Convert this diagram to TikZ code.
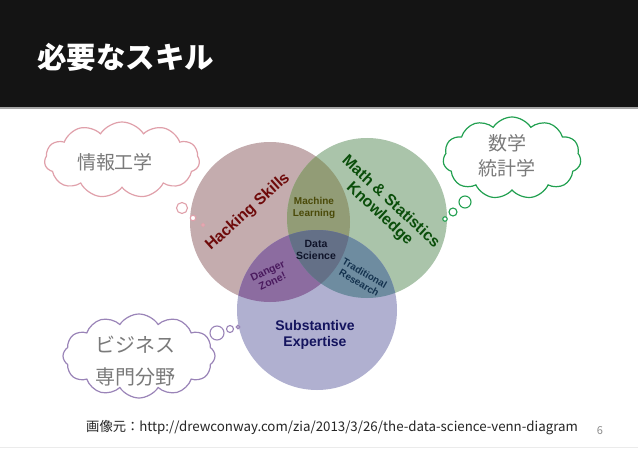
\documentclass[tikz,border=0pt]{standalone}
\usepackage{fontspec}
\usetikzlibrary{shapes.symbols}
\newfontfamily\jp{Noto Sans CJK JP}
\newfontfamily\arial{Liberation Sans}
\definecolor{band}{HTML}{141414}
\definecolor{hackc}{HTML}{C4ACAE}
\definecolor{mathc}{HTML}{AAC4AA}
\definecolor{subc}{HTML}{B0B0D0}
\definecolor{mlc}{HTML}{929C76}
\definecolor{dangc}{HTML}{8C6CA0}
\definecolor{tradc}{HTML}{6E8CA0}
\definecolor{dsc}{HTML}{647087}
\definecolor{pinkc}{HTML}{E0A0AA}
\definecolor{greenc}{HTML}{22A050}
\definecolor{purpc}{HTML}{9A84B8}
\definecolor{cloudtxt}{HTML}{7A7A7A}
\definecolor{hacktxt}{HTML}{6E0A0A}
\definecolor{mathtxt}{HTML}{0A4E0A}
\definecolor{mltxt}{HTML}{4A4A08}
\definecolor{dstxt}{HTML}{10142A}
\definecolor{dztxt}{HTML}{4A1A5E}
\definecolor{trtxt}{HTML}{14324E}
\definecolor{setxt}{HTML}{14145E}
\tikzset{
  cloudbox/.style={cloud, cloud puffs=11, cloud puff arc=115, aspect=2, fill=white, line width=1.2pt, inner sep=0pt},
  bubble/.style={circle, fill=white, line width=1.1pt, inner sep=0pt},
  cloudtext/.style={font=\jp\fontsize{19}{25}\selectfont, text=cloudtxt, align=center},
  vennlab/.style={font=\arial\bfseries, align=center, inner sep=0pt},
}
\begin{document}
\begin{tikzpicture}[x=1pt,y=-1pt]
\useasboundingbox (0,0) rectangle (638,452);
\fill[white] (0,0) rectangle (638,452);
% header
\fill[band] (0,0) rectangle (638,107);
\fill[gray!70] (0,107) rectangle (638,109);
\node[anchor=west, text=white, font=\jp\bfseries\fontsize{29.5}{30}\selectfont, inner sep=0pt] (title) at (37,57) {必要なスキル};
% venn circles
\coordinate (H) at (270,222);
\coordinate (M) at (367,218);
\coordinate (S) at (317,310);
\fill[hackc] (H) circle (80);
\fill[mathc] (M) circle (80);
\fill[subc] (S) circle (80);
\begin{scope}
  \clip (H) circle (80);
  \fill[mlc] (M) circle (80);
  \fill[dangc] (S) circle (80);
\end{scope}
\begin{scope}
  \clip (M) circle (80);
  \fill[tradc] (S) circle (80);
\end{scope}
\begin{scope}
  \clip (H) circle (80);
  \clip (M) circle (80);
  \fill[dsc] (S) circle (80);
\end{scope}
% venn labels
\node[vennlab, rotate=42, font=\arial\bfseries\fontsize{15.8}{17}\selectfont, text=hacktxt] (hack) at (248,212) {Hacking Skills};
\node[vennlab, rotate=-43, font=\arial\bfseries\fontsize{15.8}{16.5}\selectfont, text=mathtxt] (math) at (385,208) {Math \& Statistics\\Knowledge};
\node[vennlab, font=\arial\bfseries\fontsize{10}{11.5}\selectfont, text=mltxt] (ml) at (314,208) {Machine\\Learning};
\node[vennlab, font=\arial\bfseries\fontsize{10.5}{11.5}\selectfont, text=dstxt] (ds) at (316,250) {Data\\Science};
\node[vennlab, rotate=25, font=\arial\bfseries\fontsize{10.5}{11.5}\selectfont, text=dztxt] (dz) at (270,276) {Danger\\Zone!};
\node[vennlab, rotate=-30, font=\arial\bfseries\fontsize{9.8}{11}\selectfont, text=trtxt] (tr) at (362,278) {Traditional\\Research};
\node[vennlab, font=\arial\bfseries\fontsize{14}{16}\selectfont, text=setxt] (se) at (315,335) {Substantive\\Expertise};
% cloud 1
\node[cloudbox, draw=pinkc, minimum width=155, minimum height=76] (c1) at (122,160) {};
\node[cloudtext] (t1) at (115,162) {情報工学};
\node[bubble, draw=pinkc, minimum size=11] (b1a) at (182,208) {};
\node[bubble, draw=pinkc, minimum size=5.5] (b1b) at (193,218) {};
\node[bubble, draw=pinkc, minimum size=3] (b1c) at (203,225) {};
% cloud 2
\node[cloudbox, draw=greenc, minimum width=138, minimum height=82] (c2) at (512,158) {};
\node[cloudtext] (t2) at (507,156) {数学\\統計学};
\node[bubble, draw=greenc, minimum size=12] (b2a) at (465,202) {};
\node[bubble, draw=greenc, minimum size=8] (b2b) at (453,212) {};
\node[bubble, draw=greenc, minimum size=4.5] (b2c) at (445,219) {};
% cloud 3
\node[cloudbox, draw=purpc, minimum width=152, minimum height=84, cloud puffs=12] (c3) at (139,356) {};
\node[cloudtext, font=\jp\fontsize{20}{32}\selectfont] (t3) at (135,361) {ビジネス\\専門分野};
\node[bubble, draw=purpc, minimum size=14] (b3a) at (217,333) {};
\node[bubble, draw=purpc, minimum size=7] (b3b) at (230,329) {};
\node[bubble, draw=purpc, minimum size=3.5] (b3c) at (238,327) {};
% footer
\node[anchor=west, inner sep=0pt, text=black!85, font=\jp\fontsize{13.3}{15}\selectfont] (src) at (86,428) {画像元：http://drewconway.com/zia/2013/3/26/the-data-science-venn-diagram};
\node[inner sep=0pt, text=black!45, font=\jp\fontsize{11}{12}\selectfont] (pg) at (600,431) {6};
\draw[black!8, line width=0.8pt] (0,447) -- (638,447);
\end{tikzpicture}
\end{document}
